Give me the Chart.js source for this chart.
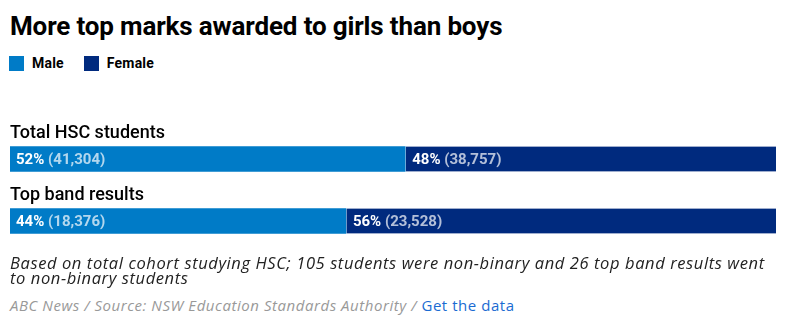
<!DOCTYPE html>
<html>
<head>
<meta charset="utf-8">
<script src="https://cdn.jsdelivr.net/npm/chart.js@4/dist/chart.umd.min.js"></script>
<style>
  html, body { margin: 0; padding: 0; background: #fff; }
  body { width: 786px; height: 321px; position: relative; overflow: hidden; font-family: Roboto, sans-serif; }
  #title { position: absolute; left: 10px; top: 11px; font-size: 26px; font-weight: 700; color: #000; letter-spacing: -0.15px; white-space: nowrap; }
  #legend { position: absolute; left: 9px; top: 55px; font-size: 14px; font-weight: 700; color: #000; letter-spacing: 0.2px; }
  #legend span.item { display: inline-block; margin-right: 20px; }
  #legend i { display: inline-block; width: 15px; height: 15px; vertical-align: -3px; margin-right: 8px; }
  #wrap { position: absolute; left: 0; top: 100px; width: 786px; height: 152px; }
  #note { position: absolute; left: 10px; top: 256px; width: 772px; font-family: "Open Sans", sans-serif; font-size: 16.5px; letter-spacing: 0.6px; font-style: italic; color: #222; line-height: 14.5px; }
  #source { position: absolute; left: 10px; top: 295px; font-family: "Open Sans", sans-serif; font-size: 15px; letter-spacing: 0.55px; font-style: italic; color: #999; }
  #source a { color: #1a6bd2; font-style: normal; text-decoration: none; }
</style>
</head>
<body>
<div id="title">More top marks awarded to girls than boys</div>
<div id="legend"></div>
<div id="wrap"><canvas id="chart"></canvas></div>
<div id="note">Based on total cohort studying HSC; 105 students were non-binary and 26 top band results went to non-binary students</div>
<div id="source">ABC News / Source: NSW Education Standards Authority / <a href="#">Get the data</a></div>
<script>
// data
let categories = ["Total HSC students", "Top band results"];
let seriesNames = ["Male", "Female"];
let maleCounts = [41304, 18376];
let femaleCounts = [38757, 23528];
let malePct = [52, 44];
let femalePct = [48, 56];
let colors = ["#007bc7", "#002a7e"];

function share(a, b) {
    let out = new Array();
    for (let i = 0; i < a.length; i++) {
        out.push(a[i] / (a[i] + b[i]) * 100);
    }
    return out;
}

// html legend
let legendHtml = "";
for (let i = 0; i < seriesNames.length; i++) {
    legendHtml += '<span class="item"><i style="background:' + colors[i] + '"></i>' + seriesNames[i] + '</span>';
}
document.getElementById("legend").innerHTML = legendHtml;

const labelsPlugin = {
    id: "barLabels",
    afterDatasetsDraw(chart) {
        let ctx = chart.ctx;
        ctx.save();
        // category names above each bar
        let meta0 = chart.getDatasetMeta(0);
        ctx.font = "500 18px Roboto";
        ctx.fillStyle = "#000";
        ctx.textBaseline = "alphabetic";
        ctx.textAlign = "left";
        for (let i = 0; i < categories.length; i++) {
            let bar = meta0.data[i];
            ctx.fillText(categories[i], 10, bar.y - bar.height / 2 - 9);
        }
        // value labels inside bars
        let pcts = [malePct, femalePct];
        let counts = [maleCounts, femaleCounts];
        ctx.textBaseline = "middle";
        for (let d = 0; d < chart.data.datasets.length; d++) {
            let meta = chart.getDatasetMeta(d);
            for (let i = 0; i < meta.data.length; i++) {
                let bar = meta.data[i];
                let left = Math.min(bar.x, bar.base) + 6 + (d > 0 ? 1 : 0);
                let y = bar.y + 1;
                let p = pcts[d][i] + "%";
                ctx.font = "bold 15px Roboto";
                ctx.fillStyle = "#fff";
                ctx.fillText(p, left, y);
                let w = ctx.measureText(p + " ").width;
                ctx.fillStyle = "rgba(255,255,255,0.7)";
                ctx.fillText("(" + counts[d][i].toLocaleString("en-US") + ")", left + w, y);
            }
        }
        ctx.restore();
    }
};

function createChart() {
    const config = {
        type: "bar",
        data: {
            labels: categories,
            datasets: [{
                label: seriesNames[0],
                data: share(maleCounts, femaleCounts),
                backgroundColor: colors[0],
                borderWidth: 0,
                barThickness: 25
            }, {
                label: seriesNames[1],
                data: share(femaleCounts, maleCounts),
                backgroundColor: colors[1],
                borderColor: "#fff",
                borderSkipped: false,
                borderWidth: { left: 1, right: 0, top: 0, bottom: 0 },
                barThickness: 25
            }]
        },
        options: {
            indexAxis: "y",
            responsive: true,
            maintainAspectRatio: false,
            animation: false,
            layout: { padding: { left: 10, right: 10, top: 28, bottom: 0 } },
            plugins: {
                legend: { display: false },
                tooltip: { enabled: false }
            },
            scales: {
                x: { stacked: true, min: 0, max: 100, display: false },
                y: { stacked: true, display: false }
            }
        },
        plugins: [labelsPlugin]
    };
    let canvas = document.getElementById("chart");
    let ctx = canvas.getContext("2d");
    new Chart(ctx, config);
}

document.addEventListener("DOMContentLoaded", () => {
    createChart();
});
</script>
</body>
</html>
